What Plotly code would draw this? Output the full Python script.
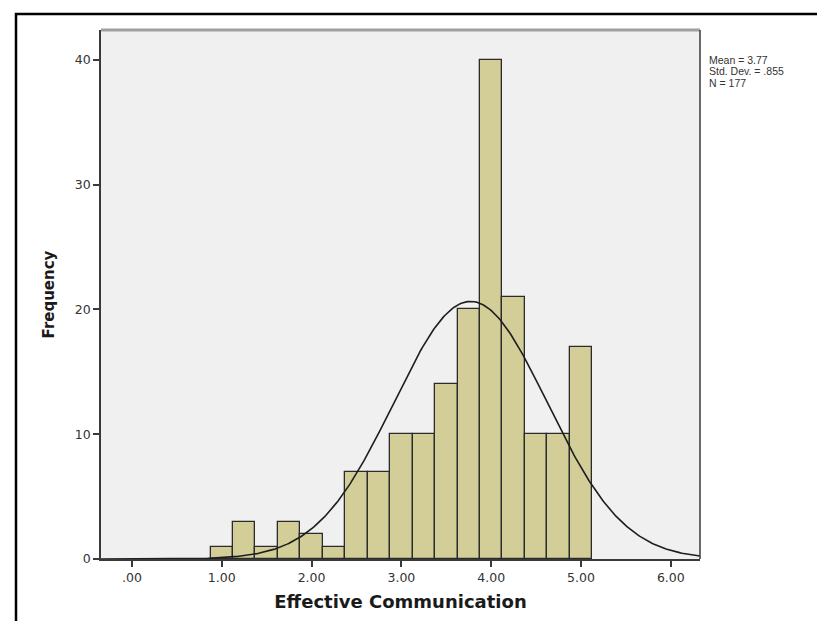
import numpy as np
import plotly.graph_objects as go

# ---- data ----
bin_centers = [1.00, 1.25, 1.50, 1.75, 2.00, 2.25, 2.50, 2.75, 3.00, 3.25,
               3.50, 3.75, 4.00, 4.25, 4.50, 4.75, 5.00]
frequencies = [1, 3, 1, 3, 2, 1, 7, 7, 10, 10, 14, 20, 40, 21, 10, 10, 17]
bin_width = 0.25
mean_val = 3.77
std_dev = 0.855
n_obs = 177
x_tick_vals = [0, 1, 2, 3, 4, 5, 6]
x_tick_text = [".00", "1.00", "2.00", "3.00", "4.00", "5.00", "6.00"]
y_tick_vals = [0, 10, 20, 30, 40]
stats_lines = ["Mean = 3.77", "Std. Dev. = .855", "N = 177"]

W, H = 825, 621
L, R, T, B = 93, 692, 22, 551
x_range = [-0.345, 6.325]
y_range = [0, 42.4]

# fitted normal curve from the displayed statistics
xc = np.linspace(x_range[0], x_range[1], 400)
yc = n_obs * bin_width / (std_dev * np.sqrt(2 * np.pi)) * np.exp(-0.5 * ((xc - mean_val) / std_dev) ** 2)

fig = go.Figure()
fig.add_trace(go.Bar(
    x=bin_centers, y=frequencies, width=bin_width,
    marker=dict(color="#D3CE97", line=dict(color="#2b2b2b", width=1.3)),
    hoverinfo="x+y",
))
fig.add_trace(go.Scatter(
    x=xc, y=yc, mode="lines",
    line=dict(color="#1e1e1e", width=1.6), hoverinfo="skip",
))

tick_font = dict(family="DejaVu Sans", size=12.5, color="#333333")

fig.update_layout(
    width=W, height=H,
    margin=dict(l=L, r=W - R, t=T, b=H - B, pad=0),
    paper_bgcolor="white",
    plot_bgcolor="#F0F0F0",
    showlegend=False,
    bargap=0,
    xaxis=dict(
        range=x_range, tickvals=x_tick_vals, ticktext=x_tick_text,
        showgrid=False, zeroline=False,
        showline=True, linecolor="#3a3a3a", linewidth=1.5,
        ticks="outside", ticklen=6, tickwidth=1.5, tickcolor="#3a3a3a",
        tickfont=tick_font,
        title=dict(text="Effective Communication", standoff=12,
                   font=dict(family="DejaVu Sans", size=18, color="#1a1a1a", weight="bold")),
        fixedrange=True,
    ),
    yaxis=dict(
        range=y_range, tickvals=y_tick_vals,
        showgrid=False, zeroline=False,
        showline=True, linecolor="#3a3a3a", linewidth=1.5,
        ticks="outside", ticklen=6, tickwidth=1.5, tickcolor="#3a3a3a",
        tickfont=tick_font,
        title=dict(text="Frequency", standoff=17,
                   font=dict(family="DejaVu Sans", size=15, color="#1a1a1a", weight="bold")),
        fixedrange=True,
    ),
)

# plot frame: gray top, dark right
fig.add_shape(type="line", xref="paper", yref="paper", x0=0, x1=1, y0=1, y1=1,
              line=dict(color="#A0A0A0", width=3))
fig.add_shape(type="line", xref="paper", yref="paper", x0=1, x1=1, y0=0, y1=1,
              line=dict(color="#3a3a3a", width=1.5))

def px_x(p):
    return (p - L) / (R - L)

def px_y(p):
    return (B - p) / (B - T)

# outer border (left and top visible)
fig.add_shape(type="rect", xref="paper", yref="paper",
              x0=px_x(8), x1=px_x(840), y0=px_y(640), y1=px_y(6),
              line=dict(color="black", width=2.5), layer="above")

for i, txt in enumerate(stats_lines):
    fig.add_annotation(
        text=txt, xref="paper", yref="paper",
        x=px_x(700), y=px_y(52 + 11.5 * i), xanchor="left", yanchor="middle",
        showarrow=False, borderpad=0,
        font=dict(family="Liberation Sans", size=10.5, color="#333333"),
    )

fig.write_html("out.html")
